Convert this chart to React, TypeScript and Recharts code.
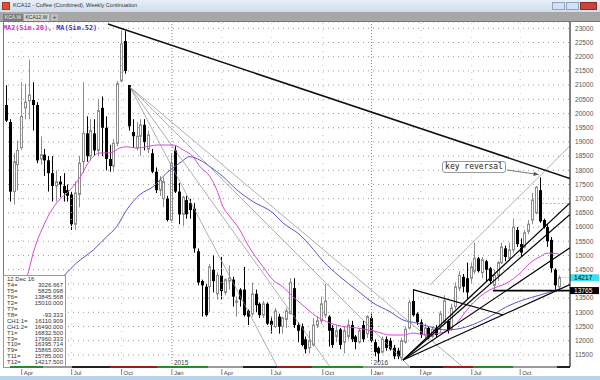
import React from 'react';
import { ComposedChart, Bar, Line, XAxis, YAxis, CartesianGrid, ReferenceLine } from 'recharts';

// weekly KC candles, Mar 2014 .. 12 Dec 2016
const opens = [
  20300, 19700, 17250, 18200, 18800, 20200, 20450, 20480, 20300, 18400,
  18550, 18350, 17900, 17450, 17600, 17450, 17300, 17150, 16100, 17150,
  18300, 19300, 18500, 19300, 18700, 20200, 19500, 18400, 18150, 18950,
  21150, 22550, 21000, 19350, 18800, 19200, 19600, 18750, 18600, 17950,
  17300, 17000, 17000, 16250, 18700, 17250, 16450, 16950, 16850, 16650,
  15150, 14100, 13900, 13900, 14500, 13650, 14300, 13700, 14100, 14150,
  13350, 13800, 13800, 13050, 12950, 13650, 13300, 12900, 13300, 12700,
  12500, 12850, 12500, 12750, 12950, 13850, 12550, 12500, 12050, 11750,
  11850, 12550, 12700, 12900, 12850, 12450, 12150, 12400, 11950, 12150,
  12550, 12150, 11950, 12550, 12250, 12800, 11950, 11750, 11600, 12050,
  12000, 11750, 11650, 11400, 11950, 12450, 13400, 12950, 12650, 12200,
  12450, 12150, 12450, 12500, 12650, 12700, 12400, 13200, 13850, 14250,
  14200, 14200, 14450, 14900, 14400, 14800, 14550, 13950, 14300, 14750,
  15250, 14900, 15200, 15900, 15400, 15300, 15850, 16250, 16500, 17300,
  16250, 16000, 15550, 14500, 13900,
];
const highs = [
  21000, 19800, 18600, 19050, 21100, 21050, 21900, 21100, 20400, 19200,
  18750, 18500, 18500, 18000, 17800, 17900, 17500, 17250, 17600, 18500,
  21100, 19900, 19800, 19800, 20500, 20600, 19900, 18900, 19100, 21150,
  22950, 22900, 21000, 19800, 19700, 19800, 19800, 19400, 18750, 18100,
  17800, 17750, 17100, 18600, 18850, 17550, 17100, 17100, 17000, 16850,
  15250, 14150, 14000, 14700, 15000, 14400, 14950, 14200, 14650, 14250,
  13550, 13850, 14600, 13100, 14050, 13800, 13350, 13400, 13350, 12850,
  13150, 12950, 12850, 13150, 14200, 14200, 12650, 12600, 12150, 12350,
  12800, 12850, 13550, 14000, 12900, 12550, 12550, 12450, 12500, 12750,
  12700, 12200, 12450, 12700, 12900, 12950, 12050, 11800, 12150, 12150,
  12100, 11850, 11750, 12100, 12500, 13450, 13800, 13000, 12750, 12600,
  12500, 12500, 12550, 13050, 13600, 12750, 13300, 14050, 14450, 14350,
  14750, 14750, 15450, 14950, 14950, 14850, 14600, 14500, 14800, 15450,
  15350, 15450, 16300, 16000, 15600, 15900, 16250, 17200, 17450, 17750,
  16300, 16100, 15650, 14550, 14300,
];
const lows = [
  19700, 16900, 16800, 17300, 18700, 19800, 19800, 19400, 18250, 18200,
  17800, 17250, 16900, 16900, 17050, 16900, 16900, 15900, 15900, 16700,
  17900, 18300, 18350, 18500, 18500, 18500, 18000, 17950, 17950, 18850,
  21100, 21400, 19400, 18800, 18700, 18500, 18700, 18600, 17900, 17200,
  17100, 16700, 16200, 16200, 17200, 16100, 16050, 16300, 16300, 15100,
  13950, 12850, 12850, 13000, 13700, 13450, 13450, 13600, 13800, 13200,
  12850, 13200, 12850, 12550, 12850, 13000, 12800, 12800, 12550, 12250,
  12450, 12250, 12250, 12450, 12950, 12450, 11950, 11800, 11550, 11550,
  11800, 12450, 12600, 12800, 11800, 11750, 11950, 11700, 11550, 12050,
  11950, 11700, 11900, 11950, 12100, 11950, 11450, 11250, 11550, 11650,
  11650, 11350, 11350, 11300, 11900, 12400, 12850, 12550, 12100, 12100,
  12050, 12100, 12100, 12300, 12550, 12250, 12350, 13100, 13750, 13700,
  13450, 14000, 14350, 14400, 14200, 14100, 14000, 13750, 14100, 14700,
  14800, 14800, 15100, 15300, 14950, 15250, 15750, 16100, 16450, 16150,
  15950, 15300, 14400, 13800, 13800,
];
const closes = [
  19750, 17250, 18300, 18700, 19900, 20400, 20650, 20300, 18350, 18550,
  18350, 17900, 17450, 17600, 17500, 17200, 17100, 16100, 17200, 18250,
  19300, 18500, 19400, 18700, 20100, 19500, 18400, 18150, 18950, 21050,
  22450, 21500, 19550, 19200, 19200, 19600, 19000, 19250, 17950, 17300,
  17650, 17600, 16250, 18250, 17250, 16450, 17050, 16450, 16600, 15250,
  14050, 13950, 12900, 14600, 14100, 14300, 13750, 14150, 14200, 13550,
  13400, 13450, 12900, 12850, 13650, 13250, 12900, 13300, 12600, 12550,
  13050, 12500, 12800, 13050, 14050, 12550, 12350, 11850, 11700, 12000,
  12550, 12700, 13300, 13400, 12350, 11850, 12350, 11850, 12350, 12550,
  12050, 11950, 12350, 12050, 12850, 12000, 11600, 11550, 12050, 11750,
  11700, 11450, 11450, 12000, 12400, 13350, 12900, 12650, 12200, 12450,
  12150, 12400, 12200, 12950, 13400, 12350, 13150, 13900, 14300, 13900,
  13700, 14600, 14900, 14450, 14850, 14500, 14100, 14300, 14750, 15300,
  14950, 15200, 16000, 15400, 15100, 15800, 16100, 16950, 17400, 16200,
  16000, 15500, 14550, 13950, 14217.5,
];

// moving averages: [week index, value]
const ma20 = [
  [0, 12800], [5.5, 14240], [7.1, 15090], [9.6, 16000], [13.2, 16850], [16.7, 17310],
  [19.3, 17760], [21.9, 18360], [24.5, 18610], [27.1, 18610], [29.7, 18790], [31.4, 18830],
  [34, 18780], [36.6, 18830], [39.5, 18890], [43.5, 18890], [46.1, 18720], [48.7, 18480],
  [50.5, 18130], [53.1, 17780], [54.9, 17310], [56.5, 16720], [58.3, 16370], [60.9, 15900],
  [62.7, 15440], [64.3, 15090], [66.9, 14610], [69.5, 14140], [72.1, 13900], [74.7, 13550],
  [76.6, 13330], [80.9, 12850], [86.1, 12550], [91.3, 12450], [96.5, 12320], [100, 12200],
  [103.4, 12200], [106, 12270], [109.6, 12200], [113, 12270], [114.8, 12320], [117.4, 12620],
  [120, 13080], [123.4, 13550], [126, 13790], [130.4, 14030], [133.9, 14380], [136.5, 14740],
  [139.1, 14960], [140.8, 15080], [142.4, 15080], [144, 15050],
];
const ma52 = [
  [10, 13580], [14.8, 14250], [18.4, 14740], [22.7, 15190], [26.2, 15660], [28.8, 16010],
  [31.4, 16600], [34.9, 17150], [38.3, 17420], [41.8, 17900], [45.3, 18260], [47.9, 18480],
  [50.5, 18360], [53.1, 18130], [56.5, 17780], [60.1, 17310], [64.3, 16900], [69.5, 16500],
  [72.1, 16150], [76.6, 15720], [79.2, 15350], [82.6, 14800], [87, 14250], [91.3, 13790],
  [95.6, 13330], [100, 13020], [103.4, 12730], [107, 12620], [110.4, 12490], [114.8, 12380],
  [120, 12490], [126, 12850], [130.4, 13200], [134.6, 13430], [139.1, 13610], [143.4, 13790],
  [144, 13820],
];

// drawn studies: [[x1, y1], [x2, y2]] in (week index, price)
const resistanceLine = [[26.56, 23152], [146.875, 17712]];
const fanFromHigh = [
  [[32.3, 20930], [70.7, 11074]],
  [[32.3, 20930], [84.4, 11074]],
  [[32.3, 20930], [105.2, 11074]],
  [[32.3, 20930], [119.0, 11074]],
];
const fanFromLow = [
  [[103.4, 11320], [146.875, 16853]],
  [[103.4, 11320], [146.875, 16448]],
  [[103.4, 11320], [146.875, 15272]],
  [[103.4, 11320], [146.875, 13979]],
];
const channelTop = [[110.4, 13960], [146.875, 18860]];
const springLine = [[106, 13800], [129.5, 12905]];
const supportLevel = [[126.8, 13765], [146.875, 13765]];
const t1Level = [[139.5, 16832.5], [146.875, 16832.5]];
const lastLevel = [[144.4, 14217.5], [146.875, 14217.5]];
const reversalArrow = [[130.5, 18010], [138.7, 17850]];

const quarterTicks = [4.1, 17.1, 30.1, 43.2, 56.2, 69.2, 82.5, 95.2, 108, 121.3, 133.9];
const quarterLabels = ['Apr', 'Jul', 'Oct', 'Jan', 'Apr', 'Jul', 'Oct', 'Jan', 'Apr', 'Jul', 'Oct'];
const yearTicks = [43.2, 95.2];
const yearLabels = ['2015', '2016'];
const priceTicks = [
  11500, 12000, 12500, 13000, 13500, 14000, 14500, 15000, 15500, 16000, 16500, 17000,
  17500, 18000, 18500, 19000, 19500, 20000, 20500, 21000, 21500, 22000, 22500, 23000,
];

const infoDate = '12 Dec 16';
const infoRows = [
  ['T4=', '3026.667'], ['T5=', '5825.098'], ['T6=', '13845.568'], ['T2=', '15010.000'],
  ['T7=', ''], ['T8=', '-93.333'], ['CH1:1=', '16110.909'], ['CH1:2=', '16490.000'],
  ['T1=', '16832.500'], ['T3=', '17960.333'], ['T10=', '16395.714'], ['T9=', '15865.000'],
  ['T11=', '15785.000'], ['T12=', '14217.500'],
];

const seasonStrip = [
  [10, 43, '#2a8a2a'], [43, 72, '#9a9a9a'], [72, 110, '#222'], [110, 157, '#9c1c1c'],
  [157, 208, '#2a8a2a'], [208, 243, '#9a9a9a'], [243, 277, '#222'], [277, 312, '#9c1c1c'],
  [312, 363, '#2a8a2a'], [363, 410, '#9a9a9a'], [410, 443, '#222'], [443, 473, '#9c1c1c'],
  [473, 513, '#2a8a2a'], [513, 557, '#9a9a9a'], [557, 570, '#222'],
];

const candles = opens.map((o, i) => ({
  i,
  open: o,
  high: highs[i],
  low: lows[i],
  close: closes[i],
  range: [lows[i], highs[i]],
}));
const ma20Data = ma20.map(([i, v]) => ({ i, v }));
const ma52Data = ma52.map(([i, v]) => ({ i, v }));

const seg = (s: number[][]) => [{ x: s[0][0], y: s[0][1] }, { x: s[1][0], y: s[1][1] }];

function Candle(props: any) {
  const { x, y, width, height, payload } = props;
  if (x == null || !payload) return null;
  const top = Math.min(y, y + height);
  const bot = Math.max(y, y + height);
  const k = (bot - top) / (payload.high - payload.low || 1);
  const yO = top + (payload.high - payload.open) * k;
  const yC = top + (payload.high - payload.close) * k;
  const cx = Math.round(x + width / 2) + 0.5;
  const bTop = Math.min(yO, yC);
  const bH = Math.max(Math.abs(yO - yC), 1);
  if (payload.close >= payload.open) {
    return (
      <g>
        <line x1={cx} x2={cx} y1={top} y2={bot} stroke="#8c8c8c" strokeWidth={1} />
        <rect x={cx - 1} y={bTop} width={2} height={bH} fill="#fff" stroke="#8c8c8c" strokeWidth={1} />
      </g>
    );
  }
  return (
    <g>
      <line x1={cx} x2={cx} y1={top} y2={bot} stroke="#000" strokeWidth={1} />
      <rect x={cx - 1.5} y={bTop} width={3} height={bH} fill="#000" />
    </g>
  );
}

function QuarterTick(props: any) {
  const { x, y, index } = props;
  return (
    <g>
      <line x1={x} x2={x} y1={y + 2} y2={y + 8} stroke="#666" strokeWidth={0.8} />
      <text x={x + 2} y={y + 7.5} fontSize={6} fill="#444" fontFamily="Liberation Sans">
        {quarterLabels[index]}
      </text>
    </g>
  );
}

function ArrowShape(p: any) {
  const { x1, y1, x2, y2 } = p;
  const a = Math.atan2(y2 - y1, x2 - x1);
  const bx = x2 - 5 * Math.cos(a);
  const by = y2 - 5 * Math.sin(a);
  const w = 2.2;
  const pts = `${x2},${y2} ${bx - w * Math.sin(a)},${by + w * Math.cos(a)} ${bx + w * Math.sin(a)},${by - w * Math.cos(a)}`;
  return (
    <g>
      <line x1={x1} y1={y1} x2={x2} y2={y2} stroke="#555" strokeWidth={0.8} />
      <polygon points={pts} fill="#555" />
    </g>
  );
}

function priceTag(text: string, bg: string, fg: string) {
  return (props: any) => {
    const vb = props.viewBox || {};
    const right = (vb.x || 0) + (vb.width || 0);
    const yy = (vb.y || 0) + (vb.height || 0) / 2;
    return (
      <g>
        <rect x={right} y={yy - 3.5} width={29} height={7} fill={bg} />
        <text x={right + 4} y={yy + 2.4} fontSize={6.6} fill={fg} fontFamily="Liberation Sans">
          {text}
        </text>
      </g>
    );
  };
}

export default function App() {
  return (
    <div style={{ position: 'absolute', left: 0, top: 0, width: 600, height: 380, background: '#fff', overflow: 'hidden', fontFamily: 'Liberation Sans' }}>
      <div style={{ position: 'absolute', left: 0, top: 0 }}>
        <ComposedChart width={600} height={380} data={candles} margin={{ top: 22, right: 0, bottom: 5, left: 3 }}>
          <CartesianGrid vertical={false} stroke="#9a9a9a" strokeDasharray="1 4" />
          <XAxis
            dataKey="i"
            type="number"
            domain={[-0.78, 146.875]}
            allowDataOverflow
            ticks={quarterTicks}
            interval={0}
            height={8}
            tickSize={0}
            tickMargin={0}
            tickLine={false}
            axisLine={false}
            tick={(p: any) => <QuarterTick {...p} />}
          />
          <YAxis
            orientation="right"
            type="number"
            domain={[11074, 23222]}
            allowDataOverflow
            ticks={priceTicks}
            interval={0}
            width={30}
            tickSize={3}
            tickMargin={2}
            tickLine={false}
            axisLine={{ stroke: '#000' }}
            tickFormatter={(v: number) => (v === 14000 ? '' : String(v))}
            tick={{ fontSize: 6.6, fill: '#555', fontFamily: 'Liberation Sans' }}
          />
          {quarterTicks.filter((t) => !yearTicks.includes(t)).map((t) => (
            <ReferenceLine key={'q' + t} x={t} stroke="#c4c4c4" strokeDasharray="1 6" />
          ))}
          {yearTicks.map((t, k) => (
            <ReferenceLine
              key={'y' + t}
              x={t}
              stroke="#8a8a8a"
              strokeDasharray="1 2"
              label={{ value: yearLabels[k], position: 'insideBottomLeft', offset: 2, fontSize: 6.5, fill: '#444' }}
            />
          ))}
          <Bar dataKey="range" barSize={3} shape={(p: any) => <Candle {...p} />} isAnimationActive={false} />
          <Line data={ma52Data} dataKey="v" type="monotone" stroke="#5555d0" strokeWidth={1} dot={false} isAnimationActive={false} />
          <Line data={ma20Data} dataKey="v" type="monotone" stroke="#dd44dd" strokeWidth={1} dot={false} isAnimationActive={false} />
          {fanFromHigh.map((s, k) => (
            <ReferenceLine key={'fh' + k} segment={seg(s)} stroke="#8c8c8c" strokeWidth={0.7} ifOverflow="hidden" />
          ))}
          <ReferenceLine segment={seg(channelTop)} stroke="#9a9a9a" strokeWidth={0.8} ifOverflow="hidden" />
          <ReferenceLine segment={seg(resistanceLine)} stroke="#111" strokeWidth={1.6} ifOverflow="hidden" />
          {fanFromLow.map((s, k) => (
            <ReferenceLine key={'fl' + k} segment={seg(s)} stroke="#000" strokeWidth={1.2} ifOverflow="hidden" />
          ))}
          <ReferenceLine segment={seg(springLine)} stroke="#000" strokeWidth={1.2} ifOverflow="hidden" />
          <ReferenceLine segment={seg(t1Level)} stroke="#999" strokeWidth={0.8} strokeDasharray="2 2" ifOverflow="hidden" />
          <ReferenceLine segment={seg(reversalArrow)} shape={(p: any) => <ArrowShape {...p} />} ifOverflow="visible" />
          <ReferenceLine
            segment={seg(lastLevel)}
            stroke="#33d6e6"
            strokeWidth={0.8}
            strokeDasharray="1 1"
            ifOverflow="visible"
            label={priceTag('14217', '#3fe0ee', '#000')}
          />
          <ReferenceLine
            segment={seg(supportLevel)}
            stroke="#000"
            strokeWidth={1.6}
            ifOverflow="visible"
            label={priceTag('13765', '#000', '#fff')}
          />
        </ComposedChart>
      </div>

      {/* window chrome */}
      <div style={{ position: 'absolute', left: 0, top: 0, width: 600, height: 12, background: 'linear-gradient(#e8eff8, #cfdcec)' }}>
        <div style={{ position: 'absolute', left: 2, top: 2, width: 8, height: 8, background: '#d9542b', border: '1px solid #a33' , boxSizing: 'border-box'}} />
        <div style={{ position: 'absolute', left: 13, top: 2, fontSize: 5.6, color: '#333', whiteSpace: 'nowrap' }}>
          KCA12 - Coffee (Combined), Weekly Continuation
        </div>
        <div style={{ position: 'absolute', left: 552, top: 2, width: 13, height: 8, background: '#d5e1f0', border: '1px solid #8ea4c2', boxSizing: 'border-box' }} />
        <div style={{ position: 'absolute', left: 566, top: 2, width: 13, height: 8, background: '#d5e1f0', border: '1px solid #8ea4c2', boxSizing: 'border-box' }} />
        <div style={{ position: 'absolute', left: 580, top: 2, width: 17, height: 8, background: '#c8453c', border: '1px solid #8e2a22', boxSizing: 'border-box' }} />
      </div>
      <div style={{ position: 'absolute', left: 0, top: 12, width: 600, height: 10, background: '#a7a7a7', borderBottom: '1px solid #777', boxSizing: 'border-box' }}>
        <div style={{ position: 'absolute', left: 3, top: 2, width: 20, height: 7, background: '#7d7d7d', color: '#eee', fontSize: 5, lineHeight: '7px', textAlign: 'center' }}>KCA.W</div>
        <div style={{ position: 'absolute', left: 24, top: 2, width: 25, height: 7, background: '#d4d4d4', color: '#333', fontSize: 5, lineHeight: '7px', textAlign: 'center' }}>KCA12.W</div>
        <div style={{ position: 'absolute', left: 51, top: 2, width: 7, height: 7, background: '#bdbdbd', color: '#333', fontSize: 6, lineHeight: '7px', textAlign: 'center' }}>+</div>
      </div>

      {/* legend */}
      <div style={{ position: 'absolute', left: 3, top: 24, fontFamily: 'DejaVu Sans Mono', fontSize: 6.8, fontWeight: 'bold', whiteSpace: 'nowrap' }}>
        <span style={{ color: '#cc33cc' }}>MA2(Sim.20), </span>
        <span style={{ color: '#3838c8' }}>MA(Sim.52)</span>
      </div>

      {/* left frame */}
      <div style={{ position: 'absolute', left: 3, top: 22, width: 1, height: 345, background: '#777' }} />

      {/* key reversal note */}
      <div style={{ position: 'absolute', left: 442, top: 161, width: 64, height: 12, border: '1px solid #9a9a9a', borderRadius: 3, background: '#fff', boxSizing: 'border-box', fontFamily: 'DejaVu Sans Mono', fontSize: 8, lineHeight: '10px', textAlign: 'center', color: '#222' }}>
        key reversal
      </div>

      {/* data window */}
      <div style={{ position: 'absolute', left: 3, top: 275, width: 63, height: 93, background: '#fff', border: '1px solid #999', boxSizing: 'border-box', fontSize: 6, lineHeight: '5.95px', color: '#333', padding: '1px 2px 0 3px' }}>
        <div>{infoDate}</div>
        {infoRows.map(([k, v]) => (
          <div key={k} style={{ display: 'flex', justifyContent: 'space-between' }}>
            <span>{k}</span>
            <span>{v}</span>
          </div>
        ))}
      </div>

      {/* season strip under the plot */}
      {seasonStrip.map(([a, b, c]) => (
        <div key={String(a)} style={{ position: 'absolute', left: a as number, top: 366, width: (b as number) - (a as number), height: 2, background: c as string }} />
      ))}

      <div style={{ position: 'absolute', left: 0, top: 376, width: 600, height: 4, background: '#bcd3ec' }} />
    </div>
  );
}
